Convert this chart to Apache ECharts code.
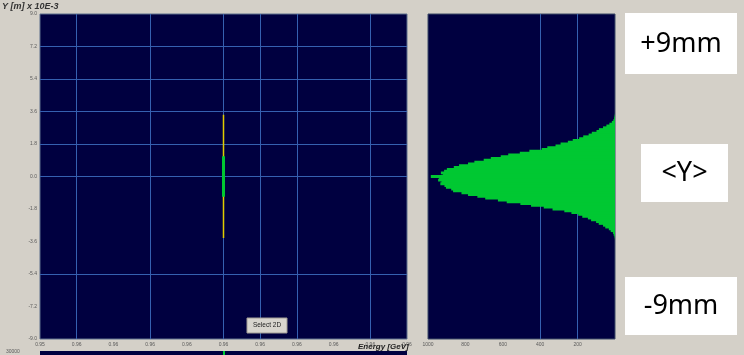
<!DOCTYPE html>
<html>
<head>
<meta charset="utf-8">
<script src="https://cdn.jsdelivr.net/npm/echarts@6/dist/echarts.min.js"></script>
<style>
  html, body { margin: 0; padding: 0; background: #d4d0c8; }
  #c { width: 744px; height: 355px; }
</style>
</head>
<body>
<div id="c"></div>
<script>
// Energy axis (GeV) and its printed tick labels
const energyMin = 0.955;
const energyMax = 0.965;
const energyStep = 0.001;
const energyLabels = ['0.95', '0.96', '0.96', '0.96', '0.96', '0.96', '0.96', '0.96', '0.96', '0.96', '0.96'];

// Vertical position Y in mm (m x 10E-3)
const yMin = -9;
const yMax = 9;
const yStep = 1.8;
const yLabels = ['-9.0', '-7.2', '-5.4', '-3.6', '-1.8', '0.0', '1.8', '3.6', '5.4', '7.2', '9.0'];

// Beam slice: full vertical extent and rms extent at the beam energy
const beamEnergy = 0.960;
const yFullExtent = [3.42, -3.40];
const yRmsExtent = [1.12, -1.12];

// Grid lines drawn inside the panels
const energyGridLines = [0.956, 0.958, 0.960, 0.961, 0.962, 0.964];
const yGridLines = [7.2, 5.4, 3.6, 1.8, 0.0, -5.4];
const countGridLines = [400, 200];

// Vertical profile histogram: bin centres (mm) and counts per bin
const binWidth = 0.1;
const histY = [
  3.4, 3.3, 3.2, 3.1, 3.0, 2.9, 2.8, 2.7, 2.6, 2.5, 2.4, 2.3, 2.2, 2.1, 2.0, 1.9, 1.8,
  1.7, 1.6, 1.5, 1.4, 1.3, 1.2, 1.1, 1.0, 0.9, 0.8, 0.7, 0.6, 0.5, 0.4, 0.3, 0.2, 0.1,
  0.0, -0.1, -0.2, -0.3, -0.4, -0.5, -0.6, -0.7, -0.8, -0.9, -1.0, -1.1, -1.2, -1.3,
  -1.4, -1.5, -1.6, -1.7, -1.8, -1.9, -2.0, -2.1, -2.2, -2.3, -2.4, -2.5, -2.6, -2.7,
  -2.8, -2.9, -3.0, -3.1, -3.2, -3.3, -3.4
];
const histCounts = [
  1, 3, 5, 9, 17, 30, 46, 64, 86, 99, 124, 141, 170, 192, 226, 252, 291,
  318, 362, 392, 458, 509, 571, 611, 664, 702, 752, 786, 834, 862, 899, 914, 931, 921,
  985, 941, 946, 928, 934, 912, 904, 876, 866, 821, 786, 736, 694, 626,
  579, 506, 449, 381, 334, 271, 233, 197, 175, 145, 128, 101, 87, 64,
  52, 33, 23, 11, 7, 3, 1
];
const countMax = 1000;
const countStep = 200;

const PANEL = '#000040';
const GRIDLINE = '#3560b0';
const GREEN = '#00c832';
const YELLOW = '#e0cc00';
const LABEL = '#5a5a5a';

const chart = echarts.init(document.getElementById('c'), null, { renderer: 'canvas' });

const lineStyleGrid = { color: GRIDLINE, type: 'solid', width: 1 };

chart.setOption({
  animation: false,
  backgroundColor: '#d4d0c8',
  grid: [
    { left: 40, top: 14, width: 367, height: 325, show: true, backgroundColor: PANEL, borderColor: '#5c6f8c', borderWidth: 1 },
    { left: 428, top: 14, width: 187, height: 325, show: true, backgroundColor: PANEL, borderColor: '#3c4a66', borderWidth: 1 }
  ],
  xAxis: [
    {
      gridIndex: 0, type: 'value', min: energyMin, max: energyMax, interval: energyStep,
      axisLine: { show: false }, axisTick: { show: false }, splitLine: { show: false },
      axisLabel: {
        fontSize: 5, color: LABEL, margin: 3, fontFamily: 'Liberation Sans',
        formatter: (v, i) => energyLabels[i]
      }
    },
    {
      gridIndex: 1, type: 'value', min: 0, max: countMax, interval: countStep, inverse: true,
      axisLine: { show: false }, axisTick: { show: false }, splitLine: { show: false },
      axisLabel: {
        fontSize: 5, color: LABEL, margin: 3, fontFamily: 'Liberation Sans',
        showMinLabel: false, formatter: v => String(v)
      }
    }
  ],
  yAxis: [
    {
      gridIndex: 0, type: 'value', min: yMin, max: yMax, interval: yStep,
      axisLine: { show: false }, axisTick: { show: false }, splitLine: { show: false },
      axisLabel: {
        fontSize: 5, color: LABEL, margin: 3, fontFamily: 'Liberation Sans',
        formatter: (v, i) => yLabels[i]
      }
    },
    {
      gridIndex: 1, type: 'value', min: yMin, max: yMax, interval: yStep,
      axisLine: { show: false }, axisTick: { show: false }, splitLine: { show: false },
      axisLabel: { show: false }
    }
  ],
  series: [
    {
      // grid lines of the energy panel
      type: 'line', xAxisIndex: 0, yAxisIndex: 0, symbol: 'none', z: 1,
      data: [],
      markLine: {
        silent: true, symbol: 'none', label: { show: false }, precision: 4, z: 1,
        lineStyle: lineStyleGrid,
        data: energyGridLines.map(e => ({ xAxis: e })).concat(yGridLines.map(y => ({ yAxis: y })))
      }
    },
    {
      // full vertical extent of the slice
      type: 'line', xAxisIndex: 0, yAxisIndex: 0, symbol: 'none', z: 3,
      data: [[beamEnergy, yFullExtent[0]], [beamEnergy, yFullExtent[1]]],
      lineStyle: { color: YELLOW, width: 1.5 }
    },
    {
      // rms extent
      type: 'line', xAxisIndex: 0, yAxisIndex: 0, symbol: 'none', z: 4,
      data: [[beamEnergy, yRmsExtent[0]], [beamEnergy, yRmsExtent[1]]],
      lineStyle: { color: GREEN, width: 3 }
    },
    {
      // grid lines of the profile panel
      type: 'line', xAxisIndex: 1, yAxisIndex: 1, symbol: 'none', z: 1,
      data: [],
      markLine: {
        silent: true, symbol: 'none', label: { show: false }, z: 1,
        lineStyle: lineStyleGrid,
        data: countGridLines.map(c => ({ xAxis: c }))
      }
    },
    {
      // vertical profile histogram, bars growing from zero counts at the right edge
      type: 'custom', xAxisIndex: 1, yAxisIndex: 1, z: 5,
      data: histY.map((y, i) => [histCounts[i], y]),
      renderItem: (params, api) => {
        const c = api.value(0);
        const y = api.value(1);
        const pA = api.coord([c, y + binWidth / 2]);
        const pB = api.coord([0, y - binWidth / 2]);
        return {
          type: 'rect',
          shape: {
            x: Math.min(pA[0], pB[0]), y: Math.min(pA[1], pB[1]) - 0.5,
            width: Math.abs(pB[0] - pA[0]), height: Math.abs(pB[1] - pA[1]) + 1
          },
          style: { fill: GREEN, stroke: null }
        };
      }
    }
  ],
  graphic: [
    { type: 'text', z: 10, left: 2, top: 2, style: { text: 'Y [m] x 10E-3', font: 'italic bold 9px Liberation Sans', fill: '#333' } },
    { type: 'text', z: 10, left: 358, top: 343, style: { text: 'Energy [GeV]', font: 'italic bold 8px Liberation Sans', fill: '#222' } },
    { type: 'text', z: 10, left: 6, top: 349, style: { text: '30000', font: '5px Liberation Sans', fill: LABEL } },
    { type: 'rect', z: 10, shape: { x: 40, y: 351, width: 367, height: 6 }, style: { fill: PANEL } },
    { type: 'rect', z: 10, shape: { x: 223, y: 351, width: 2, height: 6 }, style: { fill: GREEN } },
    // "Select 2D" button
    { type: 'rect', z: 10, shape: { x: 247, y: 318, width: 40, height: 15 }, style: { fill: '#d8d5ce', stroke: '#a09c94', lineWidth: 1 } },
    { type: 'text', z: 11, x: 267, y: 325.5, style: { text: 'Select 2D', font: '6.5px Liberation Sans', fill: '#222', align: 'center', verticalAlign: 'middle' } },
    // annotation boxes
    { type: 'rect', z: 10, shape: { x: 625, y: 13, width: 112, height: 61 }, style: { fill: '#ffffff' } },
    { type: 'text', z: 11, x: 681, y: 44, style: { text: '+9mm', font: '27px Noto Sans', fill: '#000', align: 'center', verticalAlign: 'middle' } },
    { type: 'rect', z: 10, shape: { x: 641, y: 144, width: 87, height: 58 }, style: { fill: '#ffffff' } },
    { type: 'text', z: 11, x: 684.5, y: 173, style: { text: '<Y>', font: '27px Noto Sans', fill: '#000', align: 'center', verticalAlign: 'middle' } },
    { type: 'rect', z: 10, shape: { x: 625, y: 277, width: 112, height: 58 }, style: { fill: '#ffffff' } },
    { type: 'text', z: 11, x: 681, y: 306, style: { text: '-9mm', font: '27px Noto Sans', fill: '#000', align: 'center', verticalAlign: 'middle' } }
  ]
});
</script>
</body>
</html>
